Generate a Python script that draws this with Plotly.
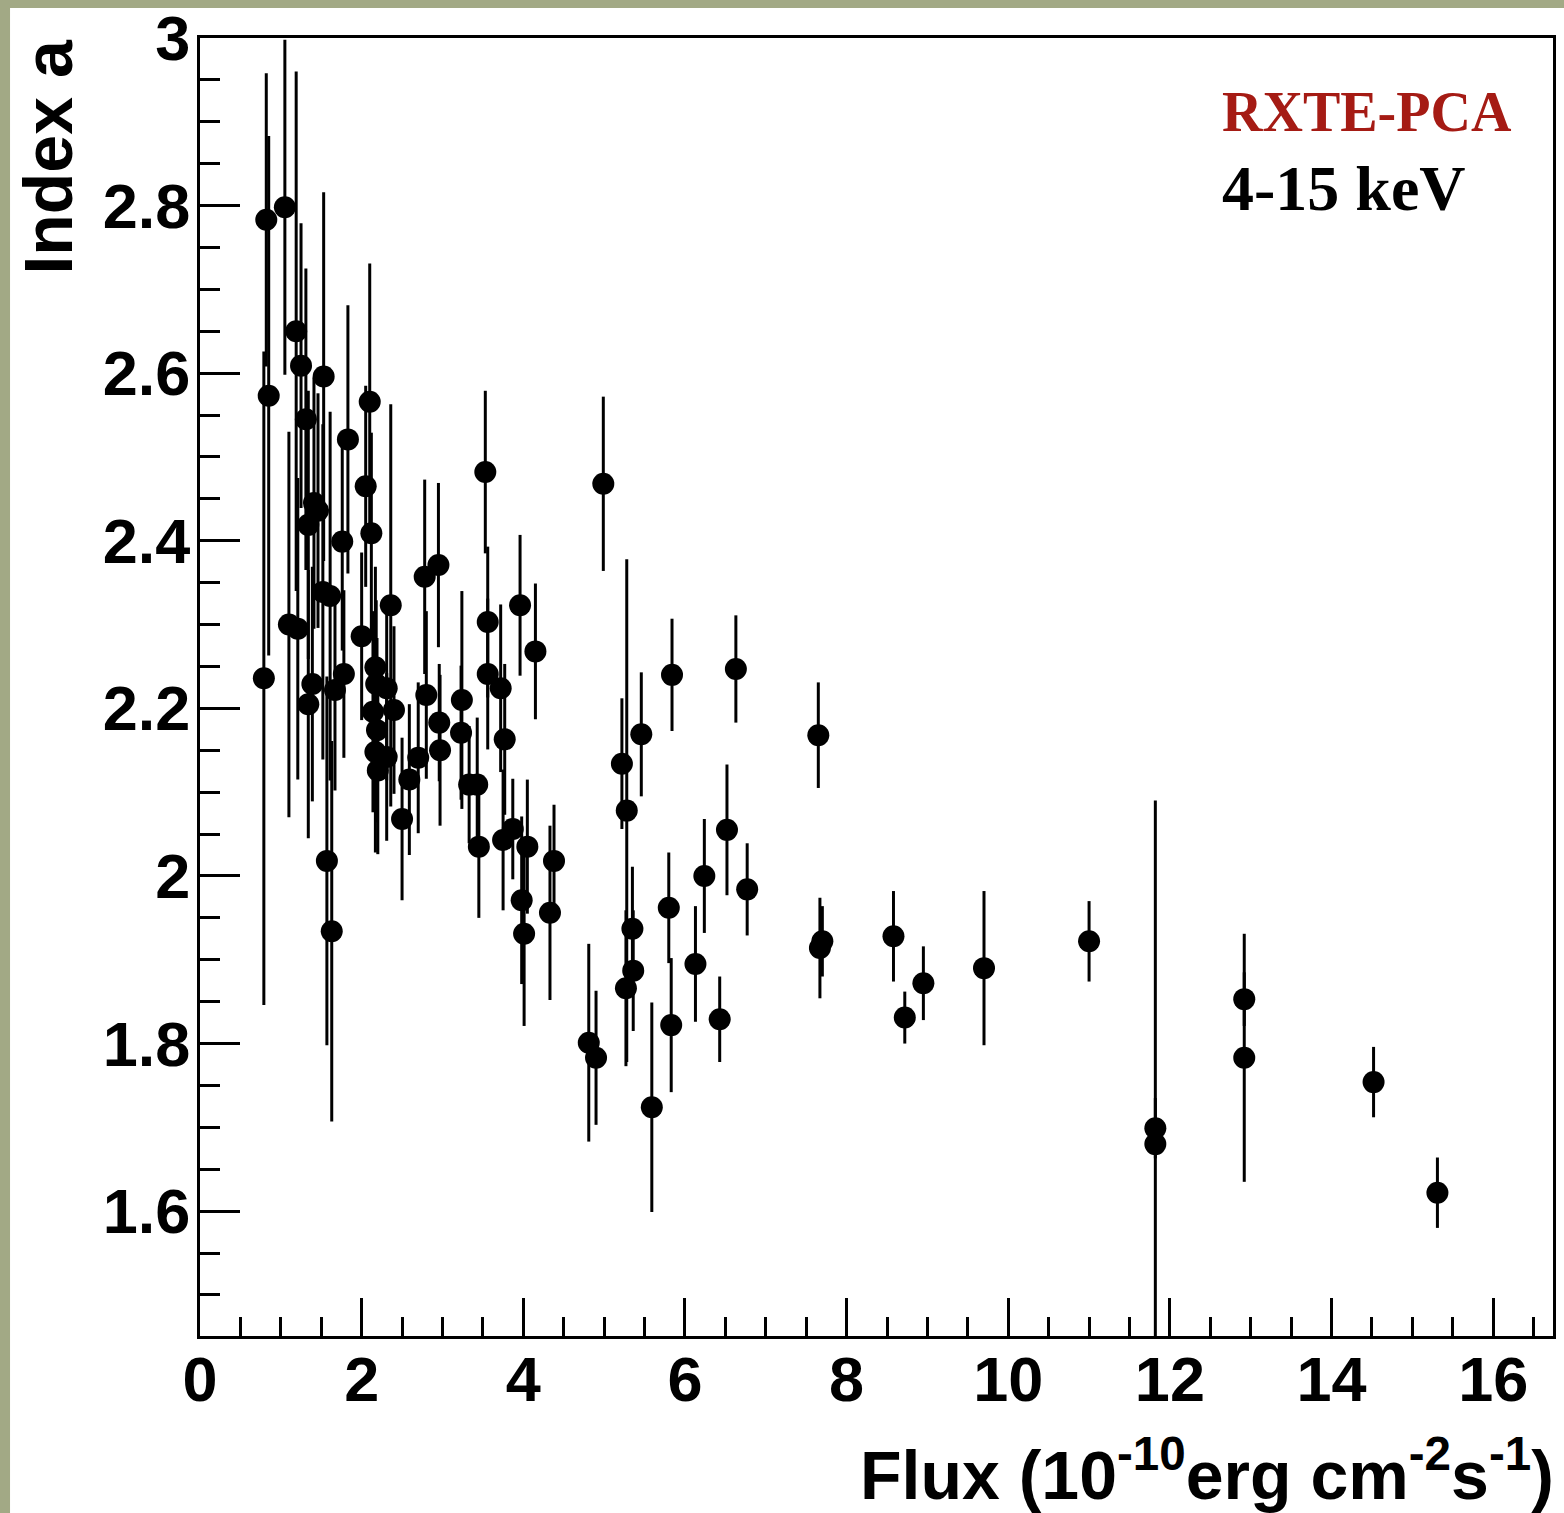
import plotly.graph_objects as go

# flux (1e-10 erg cm^-2 s^-1), spectral index a and its error
flux = [0.79, 0.82, 0.85, 1.05, 1.10, 1.19, 1.21, 1.25, 1.31, 1.34,
        1.34, 1.39, 1.41, 1.46, 1.52, 1.53, 1.57, 1.61, 1.63, 1.67,
        1.76, 1.78, 1.83, 2.00, 2.05, 2.10, 2.12, 2.14, 2.17, 2.18,
        2.19, 2.17, 2.20, 2.31, 2.31, 2.36, 2.40, 2.50, 2.59, 2.70,
        2.78, 2.80, 2.95, 2.96, 2.97, 3.24, 3.23, 3.33, 3.43, 3.45,
        3.53, 3.56, 3.56, 3.72, 3.75, 3.77, 3.87, 3.96, 3.98, 4.01,
        4.05, 4.15, 4.33, 4.38, 4.81, 4.90, 4.99, 5.22, 5.27, 5.28,
        5.35, 5.36, 5.46, 5.59, 5.80, 5.83, 5.84, 6.13, 6.24, 6.43,
        6.52, 6.63, 6.77, 7.65, 7.67, 7.70, 8.58, 8.72, 8.95, 9.70,
        11.00, 11.82, 11.82, 12.92, 12.92, 14.52, 15.31]
index_a = [2.236, 2.783, 2.573, 2.798, 2.300, 2.650, 2.295, 2.609, 2.545, 2.419,
           2.205, 2.229, 2.445, 2.436, 2.339, 2.596, 2.018, 2.334, 1.934, 2.222,
           2.399, 2.241, 2.521, 2.286, 2.465, 2.566, 2.409, 2.196, 2.249, 2.229,
           2.174, 2.148, 2.126, 2.224, 2.142, 2.323, 2.198, 2.068, 2.115, 2.141,
           2.357, 2.216, 2.371, 2.183, 2.150, 2.210, 2.171, 2.109, 2.109, 2.035,
           2.482, 2.303, 2.241, 2.224, 2.043, 2.163, 2.056, 2.323, 1.971, 1.931,
           2.035, 2.268, 1.956, 2.018, 1.801, 1.783, 2.468, 2.134, 1.866, 2.078,
           1.937, 1.887, 2.169, 1.724, 1.962, 1.822, 2.240, 1.895, 2.000, 1.829,
           2.055, 2.247, 1.984, 2.168, 1.914, 1.922, 1.928, 1.831, 1.872, 1.890,
           1.922, 1.699, 1.680, 1.853, 1.783, 1.754, 1.622]
index_err = [0.390, 0.175, 0.310, 0.200, 0.230, 0.310, 0.180, 0.170, 0.180, 0.160,
             0.160, 0.140, 0.150, 0.140, 0.200, 0.220, 0.220, 0.220, 0.227, 0.120,
             0.130, 0.100, 0.160, 0.100, 0.120, 0.165, 0.120, 0.120, 0.120, 0.100,
             0.110, 0.120, 0.100, 0.110, 0.100, 0.240, 0.100, 0.097, 0.090, 0.090,
             0.116, 0.100, 0.098, 0.070, 0.090, 0.130, 0.080, 0.070, 0.080, 0.085,
             0.097, 0.090, 0.090, 0.100, 0.084, 0.090, 0.060, 0.084, 0.100, 0.110,
             0.080, 0.081, 0.104, 0.067, 0.118, 0.080, 0.104, 0.078, 0.093, 0.300,
             0.074, 0.072, 0.074, 0.125, 0.066, 0.080, 0.067, 0.069, 0.068, 0.051,
             0.078, 0.064, 0.055, 0.063, 0.060, 0.042, 0.054, 0.031, 0.044, 0.092,
             0.048, 0.036, 0.410, 0.032, 0.148, 0.042, 0.042]

x_ticks = [0, 2, 4, 6, 8, 10, 12, 14, 16]
y_ticks = [1.6, 1.8, 2.0, 2.2, 2.4, 2.6, 2.8, 3.0]

fig = go.Figure(go.Scatter(
    x=flux, y=index_a, mode="markers",
    marker=dict(color="black", size=22),
    error_y=dict(type="data", array=index_err, color="black", thickness=3, width=0),
    showlegend=False,
))

tick_font = dict(family="Liberation Sans", size=63, color="black", weight="bold")

fig.update_xaxes(
    range=[0, 16.74], tickvals=x_ticks, ticktext=[str(v) for v in x_ticks],
    showgrid=False, zeroline=False, automargin=False,
    showline=True, linecolor="black", linewidth=3, mirror=True,
    ticks="inside", ticklen=38, tickwidth=3, tickcolor="black",
    minor=dict(dtick=0.5, ticks="inside", ticklen=19, tickwidth=3, tickcolor="black"),
    tickfont=tick_font, ticklabelstandoff=-14,
)
fig.update_yaxes(
    range=[1.451, 3.0], tickvals=y_ticks, ticktext=["1.6", "1.8", "2", "2.2", "2.4", "2.6", "2.8", "3"],
    showgrid=False, zeroline=False, automargin=False,
    showline=True, linecolor="black", linewidth=3, mirror=True,
    ticks="inside", ticklen=40, tickwidth=3, tickcolor="black",
    minor=dict(dtick=0.05, ticks="inside", ticklen=20, tickwidth=3, tickcolor="black"),
    tickfont=tick_font, ticklabelstandoff=-6,
)

title_font = dict(family="Liberation Sans", size=68, color="black", weight="bold")
fig.add_annotation(
    text="Flux (10<sup>-10</sup>erg cm<sup>-2</sup>s<sup>-1</sup>)",
    xref="paper", yref="paper", x=1.002, y=-0.103,
    xanchor="right", yanchor="middle", showarrow=False, font=title_font,
)
fig.add_annotation(
    text="Index a", textangle=-90,
    xref="paper", yref="paper", x=-0.113, y=1.0,
    xanchor="center", yanchor="top", showarrow=False, font=title_font,
)
fig.add_annotation(
    text="RXTE-PCA", xref="paper", yref="paper", x=0.754, y=0.943,
    xanchor="left", yanchor="middle", showarrow=False,
    font=dict(family="Liberation Serif", size=56, color="#a51b14", weight="bold"),
)
fig.add_annotation(
    text="4-15 keV", xref="paper", yref="paper", x=0.754, y=0.884,
    xanchor="left", yanchor="middle", showarrow=False,
    font=dict(family="Liberation Serif", size=64, color="black", weight="bold"),
)

# textured frame strips on the left and top edge
frame_col = "#a2a985"
fig.add_shape(type="rect", xref="paper", yref="paper", layer="below",
              x0=-0.16, x1=-0.1404, y0=-0.2, y1=1.1, line_width=0, fillcolor=frame_col)
fig.add_shape(type="rect", xref="paper", yref="paper", layer="below",
              x0=-0.16, x1=1.1, y0=1.0231, y1=1.1, line_width=0, fillcolor=frame_col)

fig.update_layout(
    width=1564, height=1513, autosize=False,
    margin=dict(l=200, r=11, t=38, b=177),
    paper_bgcolor="white", plot_bgcolor="white",
)

# drop the default page margin so the figure sits at the window's corner
fig.write_html("out.html", config={"displayModeBar": False},
               post_script="document.body.style.margin='0';")
